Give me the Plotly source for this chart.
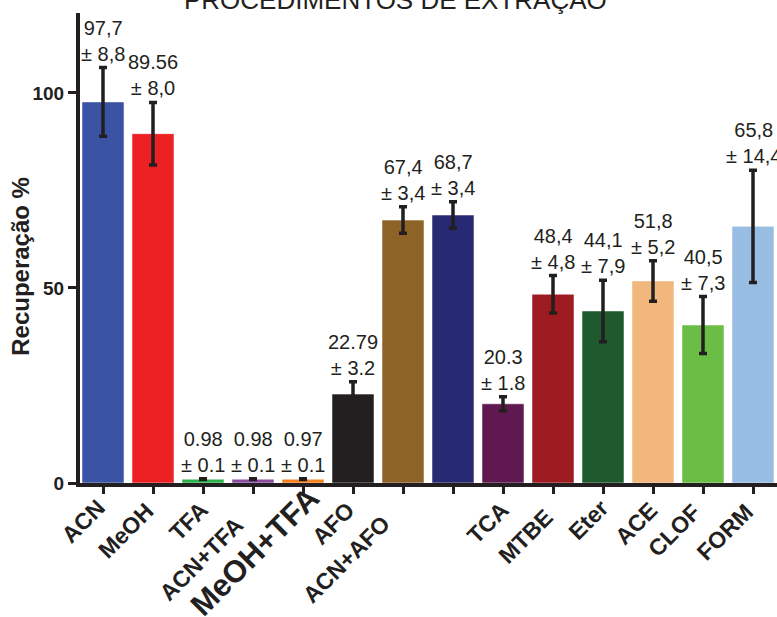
import plotly.graph_objects as go

# Extraction procedures and recovery results (mean ± SD, %)
procedimentos = ["ACN", "MeOH", "TFA", "ACN+TFA", "MeOH+TFA", "AFO", "ACN+AFO", "",
                 "TCA", "MTBE", "Eter", "ACE", "CLOF", "FORM"]
recuperacao = [97.7, 89.56, 0.98, 0.98, 0.97, 22.79, 67.4, 68.7,
               20.3, 48.4, 44.1, 51.8, 40.5, 65.8]
desvio = [8.8, 8.0, 0.1, 0.1, 0.1, 3.2, 3.4, 3.4,
          1.8, 4.8, 7.9, 5.2, 7.3, 14.4]
rotulo_media = ["97,7", "89.56", "0.98", "0.98", "0.97", "22.79", "67,4", "68,7",
                "20.3", "48,4", "44,1", "51,8", "40,5", "65,8"]
rotulo_desvio = ["± 8,8", "± 8,0", "± 0.1", "± 0.1", "± 0.1", "± 3.2", "± 3,4", "± 3,4",
                 "± 1.8", "± 4,8", "± 7,9", "± 5,2", "± 7,3", "± 14,4"]
y_ticks = [0, 50, 100]

# Styling
cores = ["#3a53a4", "#ed2024", "#2bb24a", "#8b4c9e", "#f58220", "#231f20", "#8e6328",
         "#272a72", "#5f1850", "#9e1b21", "#1e5a2e", "#f2b77c", "#6abd45", "#97bde3"]
INK = "#231f20"
FONT = "Liberation Sans, Arial, Helvetica, sans-serif"

# per-label nudges of the rotated category labels (px)
lbl_dx = [10, 8, 13, -2, 26, 10, -5, 0, 13, 8, 13, 13, 6, 8]
lbl_dy = [-8, -13, -11, -26, 5, -11, -24, 0, -11, -18, -9, -11, -13, -13]
lbl_size = [23, 23, 23, 23, 31, 23, 23, 23, 23, 23, 23, 23, 23, 23]

posicoes = list(range(len(procedimentos)))

fig = go.Figure()
fig.add_trace(go.Bar(
    x=posicoes,
    y=recuperacao,
    marker=dict(color=cores, line=dict(color="rgba(255,255,255,0.5)", width=1)),
    error_y=dict(type="data", array=desvio, visible=True,
                 color=INK, thickness=3.5, width=4),
    width=0.84,
    showlegend=False,
))

annotations = []
# value labels above each bar
for i, (m, s) in enumerate(zip(rotulo_media, rotulo_desvio)):
    annotations.append(dict(
        x=i, y=recuperacao[i] + desvio[i], xref="x", yref="y",
        text=f"{m}<br>{s}", showarrow=False, yanchor="bottom", xanchor="center",
        yshift=1, font=dict(family=FONT, size=20, color=INK),
    ))

# rotated category labels
for i, nome in enumerate(procedimentos):
    if not nome:
        continue
    annotations.append(dict(
        x=i, y=0, xref="x", yref="paper", text=f"<b>{nome}</b>",
        showarrow=False, textangle=-45, xanchor="right", yanchor="top",
        xshift=lbl_dx[i], yshift=lbl_dy[i],
        font=dict(family=FONT, size=lbl_size[i], color=INK),
    ))

# axis title
annotations.append(dict(
    x=0, y=0.46, xref="paper", yref="paper", text="<b>Recuperação %</b>",
    showarrow=False, textangle=-90, xanchor="center", yanchor="middle",
    xshift=-59, font=dict(family=FONT, size=24, color=INK),
))

# chart title
annotations.append(dict(
    x=0.452, y=1, xref="paper", yref="paper", text="PROCEDIMENTOS DE EXTRAÇÃO",
    showarrow=False, xanchor="center", yanchor="bottom", yshift=-4,
    font=dict(family=FONT, size=26, color=INK),
))

fig.update_layout(
    width=777, height=617,
    margin=dict(l=80, r=0, t=13, b=134),
    plot_bgcolor="white", paper_bgcolor="white",
    annotations=annotations,
    bargap=0.16,
)
fig.update_xaxes(
    range=[-0.46, 13.48], tickvals=posicoes, showticklabels=False,
    showline=True, linewidth=4, linecolor=INK,
    ticks="outside", ticklen=7, tickwidth=3, tickcolor=INK,
    showgrid=False, zeroline=False,
)
fig.update_yaxes(
    range=[0, 120.5], tickvals=y_ticks,
    showline=True, linewidth=4, linecolor=INK,
    ticks="outside", ticklen=8, tickwidth=3, tickcolor=INK,
    tickfont=dict(family=FONT, size=19, color=INK, weight="bold"),
    showgrid=False, zeroline=False,
)

fig.write_html("out.html")
